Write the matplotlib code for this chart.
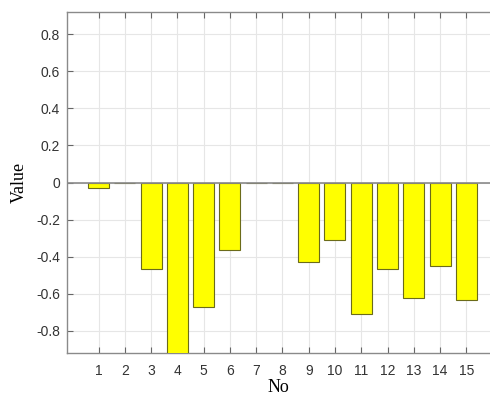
import matplotlib.pyplot as plt
import numpy as np

no = list(range(1, 16))
values = [-0.028, 0.0, -0.468, -0.95, -0.674, -0.364, 0.0, 0.0,
          -0.427, -0.308, -0.708, -0.468, -0.622, -0.453, -0.633]
yticks = [-0.8, -0.6, -0.4, -0.2, 0, 0.2, 0.4, 0.6, 0.8]

fig = plt.figure(figsize=(4.9, 3.96), dpi=100)
ax = fig.add_axes([67 / 490, 1 - 353 / 396, 1 - 67 / 490, (353 - 12) / 396])

ax.bar(no, values, width=0.8, color="#ffff00", edgecolor="#6b6b1a", linewidth=0.8, zorder=3)
ax.axhline(0, color="#8a8a8a", linewidth=1.2, zorder=4)

ax.set_xlim(-0.2, 15.9)
ax.set_ylim(-0.92, 0.92)
ax.set_xticks(no)
ax.set_yticks(yticks)
ax.set_yticklabels(["-0.8", "-0.6", "-0.4", "-0.2", "0", "0.2", "0.4", "0.6", "0.8"])
ax.grid(True, color="#e6e6e6", linewidth=0.8, zorder=0)
ax.tick_params(direction="in", top=True, length=4, color="#666666",
               labelsize=10, labelcolor="#333333")
ax.tick_params(axis="x", pad=8)
ax.tick_params(axis="y", pad=5)
for lab in ax.get_xticklabels() + ax.get_yticklabels():
    lab.set_family("Liberation Sans")
for s in ["left", "bottom", "top"]:
    ax.spines[s].set_color("#8a8a8a")
    ax.spines[s].set_linewidth(1.0)
ax.spines["right"].set_visible(False)

ax.set_xlabel("No", family="Liberation Serif", fontsize=13, labelpad=1)
ax.set_ylabel("Value", family="Liberation Serif", fontsize=13, labelpad=6)

fig.savefig("out.png", dpi=100)
